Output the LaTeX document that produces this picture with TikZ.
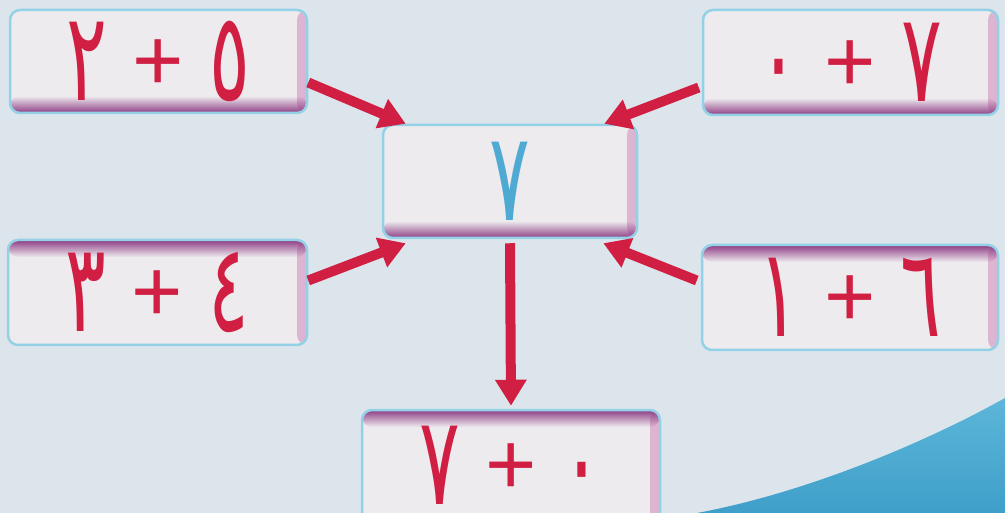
\documentclass[tikz,border=0pt]{standalone}
\usepackage{fontspec}
\usepackage{graphicx}
\newfontfamily\arabicfont{DejaVu Sans}
\newfontfamily\plusfont{Liberation Sans}
\usetikzlibrary{arrows.meta,fadings}
\definecolor{bgc}{HTML}{DDE5EC}
\definecolor{boxfill}{HTML}{EEEBEF}
\definecolor{boxline}{HTML}{92D1E6}
\definecolor{shadowc}{HTML}{8E3C84}
\definecolor{sidec}{HTML}{DDB3D0}
\definecolor{numred}{HTML}{D01F42}
\definecolor{numblue}{HTML}{4EA9D3}
\definecolor{wave}{HTML}{5CB6D9}
\definecolor{wavedark}{HTML}{3F9FC9}
\tikzfading[name=fadeup, bottom color=transparent!0, top color=transparent!100]
\tikzfading[name=fadedown, top color=transparent!0, bottom color=transparent!100]
\newcommand{\dg}[1]{\scalebox{0.8}[1.3]{#1}}
\newcommand{\pls}{\raisebox{10pt}{\plusfont\fontsize{88}{88}\selectfont +}}
\newcommand{\gap}{\hspace{25pt}}
\tikzset{
  numbox/.style={draw=boxline, line width=2.5pt, fill=boxfill, rounded corners=10pt,
    inner sep=0pt, font=\arabicfont\fontsize{95}{95}\selectfont, text=numred},
  sideband/.style={left color=boxfill, right color=sidec},
  shbottom/.style={path picture={
    \shade[sideband] ([xshift=-10pt]path picture bounding box.south east) rectangle (path picture bounding box.north east);
    \fill[shadowc, path fading=fadeup] (path picture bounding box.south west) rectangle ([yshift=17pt]path picture bounding box.south east);}},
  shtop/.style={path picture={
    \shade[sideband] ([xshift=-10pt]path picture bounding box.south east) rectangle (path picture bounding box.north east);
    \fill[shadowc, path fading=fadedown] ([yshift=-17pt]path picture bounding box.north west) rectangle (path picture bounding box.north east);}},
  arr/.style={draw=numred, line width=10pt, -{Triangle[length=26pt,width=30pt]}}
}
\begin{document}
\begin{tikzpicture}[x=1pt,y=-1pt]
\useasboundingbox (0,0) rectangle (1005,513);
\fill[bgc] (0,0) rectangle (1005,513);
\clip (0,0) rectangle (1005,513);
\shade[top color=wave, bottom color=wavedark] (697,513) .. controls (810,492) and (930,440) .. (1005,398) -- (1005,513) -- cycle;

\node[numbox, shbottom, minimum width=297pt, minimum height=103pt] (tl) at (158.5,61.5) {\dg{٢}\gap\pls\gap\dg{٥}};
\node[numbox, shbottom, minimum width=295pt, minimum height=105pt] (tr) at (850.5,62.5) {\dg{٠}\gap\pls\gap\dg{٧}};
\node[numbox, shbottom, minimum width=254pt, minimum height=113pt, text=numblue] (c) at (510,181.5) {\dg{٧}};
\node[numbox, shtop, minimum width=299pt, minimum height=105pt] (ml) at (157.5,292.5) {\dg{٣}\gap\pls\gap\dg{٤}};
\node[numbox, shtop, minimum width=296pt, minimum height=105pt] (mr) at (850,297.5) {\dg{١}\gap\pls\gap\dg{٦}};
\node[numbox, shtop, minimum width=298pt, minimum height=112pt, text depth=0pt, text height=76pt] (b) at (511,466) {\dg{٧}\gap\pls\gap\dg{٠}};

\draw[arr] ([yshift=-21pt]tl.east) -- ([xshift=24pt]c.north west);
\draw[arr] ([xshift=-3pt,yshift=-25pt]tr.west) -- ([xshift=-34pt]c.north east);
\draw[arr] ([yshift=12pt]ml.east) -- ([xshift=24pt,yshift=-4pt]c.south west);
\draw[arr] ([xshift=-4pt,yshift=17pt]mr.west) -- ([xshift=-35pt,yshift=-4pt]c.south east);
\draw[arr] ([yshift=-4pt]c.south) -- ([yshift=3pt]b.north);
\end{tikzpicture}
\end{document}
